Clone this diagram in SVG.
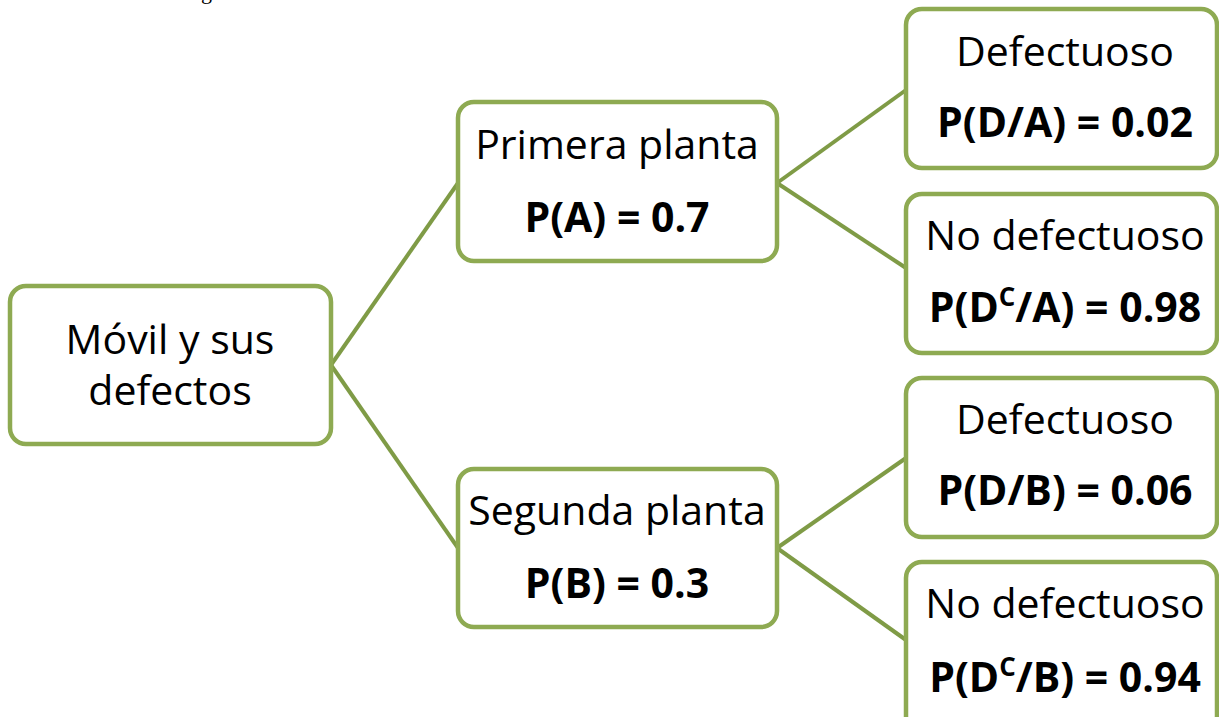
<svg xmlns="http://www.w3.org/2000/svg" width="1219" height="717" viewBox="0 0 1219 717">
<style>
.box{fill:#ffffff;stroke:#8eaa52;stroke-width:4.5}
.conn{stroke:#7f9b46;stroke-width:4;fill:none}
.t{font-family:"Open Sans","Noto Sans",sans-serif;font-size:41px;fill:#000;text-anchor:middle}
.b{font-weight:bold}
.frag{font-family:"Liberation Serif",serif;font-size:22px;fill:#000}
</style>
<rect width="1219" height="717" fill="#ffffff"/>
<text class="frag" x="201" y="-1">g</text>
<g id="connectors">
<line class="conn" x1="331" y1="365" x2="458" y2="183"/>
<line class="conn" x1="331" y1="365" x2="458" y2="548"/>
<line class="conn" x1="777" y1="183" x2="906" y2="90"/>
<line class="conn" x1="777" y1="183" x2="906" y2="268"/>
<line class="conn" x1="777" y1="548" x2="906" y2="458"/>
<line class="conn" x1="777" y1="548" x2="906" y2="640"/>
</g>
<g id="root">
<rect class="box" x="10" y="286" width="321" height="158" rx="16"/>
<text class="t" x="170" y="354">Móvil y sus</text>
<text class="t" x="170" y="405">defectos</text>
</g>
<g id="planta-a">
<rect class="box" x="458" y="102" width="319" height="159" rx="16"/>
<text class="t" x="617" y="159">Primera planta</text>
<text class="t b" x="617" y="232">P(A) = 0.7</text>
</g>
<g id="planta-b">
<rect class="box" x="458" y="469" width="319" height="158" rx="16"/>
<text class="t" x="617" y="525">Segunda planta</text>
<text class="t b" x="617" y="598">P(B) = 0.3</text>
</g>
<g id="def-a">
<rect class="box" x="906" y="9" width="311" height="159" rx="16"/>
<text class="t" x="1065" y="66">Defectuoso</text>
<text class="t b" x="1065" y="137">P(D/A) = 0.02</text>
</g>
<g id="nodef-a">
<rect class="box" x="906" y="194" width="311" height="159" rx="16"/>
<text class="t" x="1065" y="250">No defectuoso</text>
<text class="t b" x="1065" y="322">P(D<tspan font-size="26" dy="-16">C</tspan><tspan dy="16">/A) = 0.98</tspan></text>
</g>
<g id="def-b">
<rect class="box" x="906" y="378" width="311" height="159" rx="16"/>
<text class="t" x="1065" y="434">Defectuoso</text>
<text class="t b" x="1065" y="505">P(D/B) = 0.06</text>
</g>
<g id="nodef-b">
<rect class="box" x="906" y="562" width="311" height="170" rx="16"/>
<text class="t" x="1065" y="618">No defectuoso</text>
<text class="t b" x="1065" y="692">P(D<tspan font-size="26" dy="-16">C</tspan><tspan dy="16">/B) = 0.94</tspan></text>
</g>
</svg>
